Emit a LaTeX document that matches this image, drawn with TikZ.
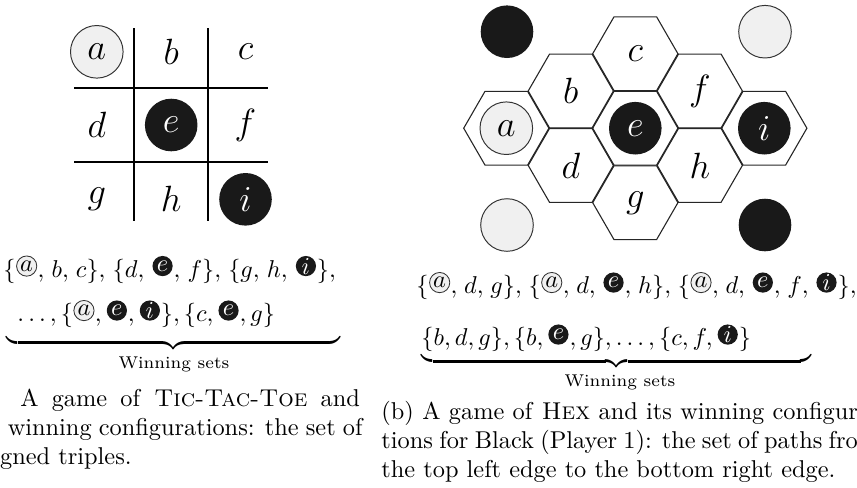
\RequirePackage{fix-cm}
\documentclass[tikz,border=0pt]{standalone}
\usepackage{amsmath}
\usetikzlibrary{calc}
\newcommand\cmL{{,}\hspace{2.95pt}}
\newcommand\cmR{{,}\hspace{2.77pt}}
\newcommand\bigletters{\fontsize{15}{18}\selectfont}
\tikzset{
  hexline/.style={draw=black!85, line width=0.45pt},
  gridline/.style={line width=0.75pt},
  bigw/.style={circle, draw=black!80, line width=0.4pt, fill=black!6, minimum size=21.6pt, inner sep=0pt, font=\bigletters},
  bigb/.style={circle, fill=black!90, text=white, minimum size=21.6pt, inner sep=0pt, font=\bigletters},
  cell/.style={inner sep=0pt, font=\bigletters},
  smw/.style={circle, draw=black!80, line width=0.35pt, fill=black!6, minimum size=8.3pt, inner sep=0pt, anchor=west},
  smb/.style={circle, fill=black!90, text=white, minimum size=8.3pt, inner sep=0pt, anchor=west},
  ft/.style={inner sep=0pt, anchor=base west},
  captxt/.style={inner sep=0pt, anchor=base west},
  brc/.style={inner sep=0pt, anchor=north},
  wlabel/.style={inner sep=0pt, anchor=base, font=\scriptsize},
}
\begin{document}
\begin{tikzpicture}[x=0.4107pt, y=-0.4107pt]
\useasboundingbox (0,0) rectangle (857,487);
\clip (0,0) rectangle (857,487);

% ---------- Tic-Tac-Toe ----------
\draw[gridline] (134,28.3) -- (134,220.7);
\draw[gridline] (208.3,28.3) -- (208.3,220.7);
\draw[gridline] (74,87.7) -- (267.7,87.7);
\draw[gridline] (74,162.3) -- (267.7,162.3);
\node[bigw] (ta) at (96.8,51.8) {$a$};
\node[cell] (tb) at (171.2,51.8) {$b$};
\node[cell] (tc) at (245.5,51.8) {$c$};
\node[cell] (td) at (96.8,125) {$d$};
\node[bigb] (te) at (171.2,125) {$e$};
\node[cell] (tf) at (245.5,125) {$f$};
\node[cell] (tg) at (96.8,199.3) {$g$};
\node[cell] (th) at (171.2,199.3) {$h$};
\node[bigb] (ti) at (245.5,199.3) {$i$};

% ---------- Hex ----------
\foreach \hx/\hy in {506.3/128.2, 570.8/91.0, 635.3/53.7, 570.8/165.4, 635.3/128.2, 699.8/91.0, 635.3/202.7, 699.8/165.4, 764.3/128.2}{
  \draw[hexline] (\hx,\hy) +(0:42.6) -- +(60:42.6) -- +(120:42.6) -- +(180:42.6) -- +(240:42.6) -- +(300:42.6) -- cycle;
}
\node[bigw] (ha) at (506.3,128.2) {$a$};
\node[cell] (hb) at (570.8,91.0) {$b$};
\node[cell] (hc) at (635.3,53.7) {$c$};
\node[cell] (hd) at (570.8,165.4) {$d$};
\node[bigb] (he) at (635.3,128.2) {$e$};
\node[cell] (hf) at (699.8,91.0) {$f$};
\node[cell] (hg) at (635.3,202.7) {$g$};
\node[cell] (hh) at (699.8,165.4) {$h$};
\node[bigb] (hi) at (764.3,128.2) {$i$};
\node[bigb] (cTL) at (507,31.7) {};
\node[bigw] (cTR) at (765,31.7) {};
\node[bigw] (cBL) at (507,225) {};
\node[bigb] (cBR) at (765,225) {};

% ---------- left winning sets ----------
\node[ft] (L1a) at (3,277) {$\{$};
\node[smw] (L1b) at ([yshift=4.5pt]L1a.base east) {$a$};
\node[ft] (L1c) at (L1b.east |- L1a.base) {$\cmL b\cmL c\}\cmL\{d\cmL$};
\node[smb] (L1d) at ([yshift=4.5pt]L1c.base east) {$e$};
\node[ft] (L1e) at (L1d.east |- L1a.base) {$\cmL f\}\cmL\{g\cmL h\cmL$};
\node[smb] (L1f) at ([yshift=4.5pt]L1e.base east) {$i$};
\node[ft] (L1g) at (L1f.east |- L1a.base) {$\}{,}$};

\node[ft] (L2a) at (17,321.5) {$\ldots,\{$};
\node[smw] (L2b) at ([yshift=4.5pt]L2a.base east) {$a$};
\node[ft] (L2c) at (L2b.east |- L2a.base) {$,\,$};
\node[smb] (L2d) at ([yshift=4.5pt]L2c.base east) {$e$};
\node[ft] (L2e) at (L2d.east |- L2a.base) {$,\,$};
\node[smb] (L2f) at ([yshift=4.5pt]L2e.base east) {$i$};
\node[ft] (L2g) at (L2f.east |- L2a.base) {$\},\{c,\,$};
\node[smb] (L2h) at ([yshift=4.5pt]L2g.base east) {$e$};
\node[ft] (L2i) at (L2h.east |- L2a.base) {$,g\}$};
\node[brc] (ubL) at (173.5,333.5) {$\underbrace{\hbox to 136.8pt{}}$};
\node[wlabel] (wsL) at (174,368.5) {Winning sets};

% ---------- right winning sets ----------
\node[ft] (R1a) at (416,293.5) {$\{$};
\node[smw] (R1b) at ([yshift=4.5pt]R1a.base east) {$a$};
\node[ft] (R1c) at (R1b.east |- R1a.base) {$\cmR d\cmR g\}\cmR\{$};
\node[smw] (R1d) at ([yshift=4.5pt]R1c.base east) {$a$};
\node[ft] (R1e) at (R1d.east |- R1a.base) {$\cmR d\cmR$};
\node[smb] (R1f) at ([yshift=4.5pt]R1e.base east) {$e$};
\node[ft] (R1g) at (R1f.east |- R1a.base) {$\cmR h\}\cmR\{$};
\node[smw] (R1h) at ([yshift=4.5pt]R1g.base east) {$a$};
\node[ft] (R1i) at (R1h.east |- R1a.base) {$\cmR d\cmR$};
\node[smb] (R1j) at ([yshift=4.5pt]R1i.base east) {$e$};
\node[ft] (R1k) at (R1j.east |- R1a.base) {$\cmR f\cmR$};
\node[smb] (R1l) at ([yshift=4.5pt]R1k.base east) {$i$};
\node[ft] (R1m) at (R1l.east |- R1a.base) {$\}{,}$};

\node[ft] (R2a) at (421,345.5) {$\{b,d,g\},\{b,\,$};
\node[smb] (R2b) at ([yshift=4.5pt]R2a.base east) {$e$};
\node[ft] (R2c) at (R2b.east |- R2a.base) {$,g\},\ldots,\{c,f,\,$};
\node[smb] (R2d) at ([yshift=4.5pt]R2c.base east) {$i$};
\node[ft] (R2e) at (R2d.east |- R2a.base) {$\}$};
\node[brc] (ubR) at (616.7,352) {$\underbrace{\hbox to 160.2pt{}}$};
\node[wlabel] (wsR) at (620,386.5) {Winning sets};

% ---------- captions ----------
\node[captxt] (capA1) at (20,406.5) {\makebox[139.4pt][s]{A game of \textsc{Tic-Tac-Toe} and}};
\node[captxt] (capA2) at (7.3,435.7) {\makebox[145.7pt][s]{winning configurations: the set of}};
\node[captxt] (capA3) at (-26,464.9) {aligned triples.};
\node[captxt] (capB1) at (381,419.3) {\makebox[204pt][s]{(b) A game of \textsc{Hex} and its winning configura-}};
\node[captxt] (capB2) at (381,448.5) {\makebox[204pt][s]{tions for Black (Player 1): the set of paths from}};
\node[captxt] (capB3) at (381,477.7) {the top left edge to the bottom right edge.};
\end{tikzpicture}
\end{document}
